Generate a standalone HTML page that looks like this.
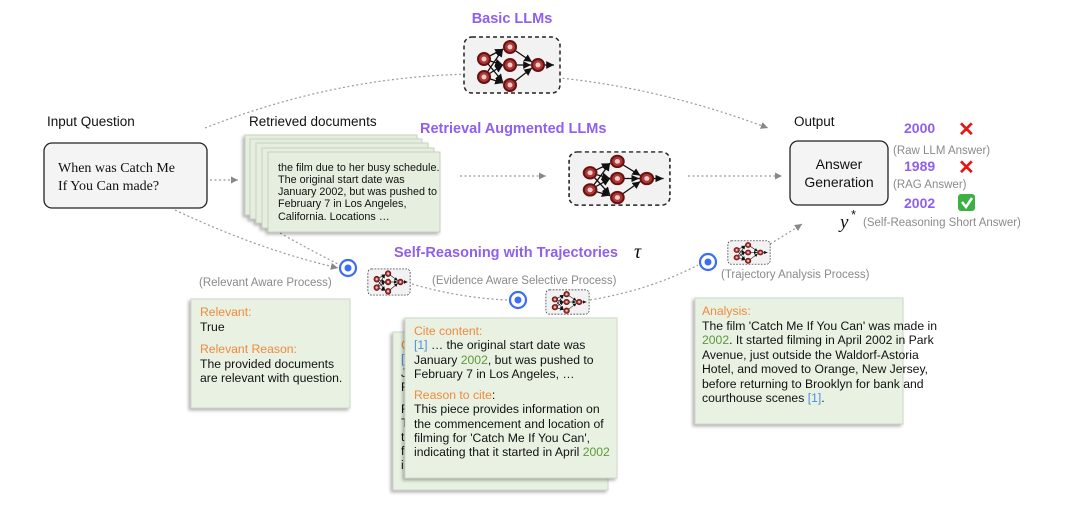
<!DOCTYPE html>
<html><head><meta charset="utf-8"><style>
body{margin:0;background:#fff;}
svg{display:block;font-family:"Liberation Sans",Arial,sans-serif;}
.pur{fill:#8f5ff0;font-weight:bold;}
.g{fill:#8a8a8a;font-size:11.5px;}
.or{fill:#f08a3c;}
.gr{fill:#5a9a3a;}
.bl{fill:#4d8fe0;}
.t{font-size:12.2px;fill:#111;}
</style></head><body>
<svg width="1067" height="512" viewBox="0 0 1067 512" xmlns="http://www.w3.org/2000/svg">
<defs>
<marker id="ah" markerWidth="8" markerHeight="8" refX="6" refY="3" orient="auto"><path d="M0,0 L6,3 L0,6 Z" fill="#888"/></marker>
<marker id="nh" markerWidth="8" markerHeight="8" refX="6" refY="3" orient="auto"><path d="M0,0 L6,3 L0,6 Z" fill="#111"/></marker>
<symbol id="net" viewBox="0 0 100 60" preserveAspectRatio="none">
<rect x="2" y="2" width="96" height="56" rx="8" fill="#f2f2f2" stroke="#222" stroke-width="1.5" stroke-dasharray="4,3"/>
<g stroke="#111" stroke-width="1.3" marker-end="url(#nh)">
<line x1="22" y1="24" x2="41" y2="14"/><line x1="22" y1="24" x2="41" y2="30"/><line x1="22" y1="24" x2="41" y2="47"/>
<line x1="22" y1="42" x2="41" y2="14"/><line x1="22" y1="42" x2="41" y2="30"/><line x1="22" y1="42" x2="41" y2="48"/>
<line x1="48" y1="12" x2="70" y2="27"/><line x1="48" y1="30" x2="69" y2="30"/><line x1="48" y1="50" x2="70" y2="33"/>
<line x1="76" y1="30" x2="92" y2="30"/>
</g>
<g fill="#a83a3a" stroke="#6b1010" stroke-width="2">
<circle cx="22" cy="24" r="6"/><circle cx="22" cy="42" r="6"/>
<circle cx="48" cy="12" r="6"/><circle cx="48" cy="30" r="6"/><circle cx="48" cy="50" r="6"/>
<circle cx="76" cy="30" r="6"/></g>
<g fill="#f4c8c8"><circle cx="22" cy="24" r="2.5"/><circle cx="22" cy="42" r="2.5"/><circle cx="48" cy="12" r="2.5"/><circle cx="48" cy="30" r="2.5"/><circle cx="48" cy="50" r="2.5"/><circle cx="76" cy="30" r="2.5"/></g>
</symbol>
<filter id="sh" x="-10%" y="-10%" width="120%" height="120%"><feDropShadow dx="-2" dy="2" stdDeviation="1.5" flood-color="#000" flood-opacity="0.3"/></filter>
</defs>

<g fill="none" stroke="#999" stroke-width="1.2" stroke-dasharray="2,2.5">
<path d="M205,128 Q480,20 768,128" marker-end="url(#ah)"/>
<path d="M210,180 L238,180" marker-end="url(#ah)"/>
<path d="M460,176 L546,176" marker-end="url(#ah)"/>
<path d="M688,176 L782,176" marker-end="url(#ah)"/>
<path d="M175,210 Q260,250 338,268" marker-end="url(#ah)"/>
<path d="M280,233 Q310,250 338,264"/>
<path d="M412,284 Q460,298 508,300"/>
<path d="M590,300 Q650,290 698,265"/>
<path d="M770,244 Q790,232 802,224" marker-end="url(#ah)"/>
</g>

<text x="512" y="23" text-anchor="middle" class="pur" font-size="14.5">Basic LLMs</text>
<use href="#net" x="462" y="35" width="100" height="60"/>

<text x="47" y="126" font-size="13.5" fill="#111">Input Question</text>
<rect x="44" y="143" width="163" height="65" rx="8" fill="#f4f4f4" stroke="#222" stroke-width="1.3"/>
<text x="58" y="172" font-size="14" fill="#111" font-family="Liberation Serif,serif">When was Catch Me</text>
<text x="58" y="190" font-size="14" fill="#111" font-family="Liberation Serif,serif">If You Can made?</text>

<text x="249" y="126" font-size="13.5" fill="#111">Retrieved documents</text>
<g stroke="#c8d2c0" stroke-width="1" fill="#e6efdf" filter="url(#sh)">
<rect x="245" y="135" width="172" height="80"/>
<rect x="250" y="139" width="172" height="80"/>
<rect x="256" y="143" width="172" height="80"/>
<rect x="262" y="148" width="172" height="80"/>
<rect x="268" y="152" width="172" height="80"/>
</g>
<g font-size="10.8" fill="#111">
<text x="278" y="171">the film due to her busy schedule.</text>
<text x="278" y="183">The original start date was</text>
<text x="278" y="195">January 2002, but was pushed to</text>
<text x="278" y="207">February 7 in Los Angeles,</text>
<text x="278" y="220">California. Locations …</text>
</g>

<text x="420" y="133" class="pur" font-size="14.5">Retrieval Augmented  LLMs</text>
<use href="#net" x="567" y="150" width="105" height="57"/>

<text x="794" y="126" font-size="13.5" fill="#111">Output</text>
<rect x="790" y="141" width="98" height="64" rx="8" fill="#f4f4f4" stroke="#222" stroke-width="1.3"/>
<text x="839" y="169" text-anchor="middle" font-size="14" fill="#111">Answer</text>
<text x="839" y="187" text-anchor="middle" font-size="14" fill="#111">Generation</text>

<text x="904" y="133" class="pur" font-size="14">2000</text>
<text x="958" y="136" font-size="20" fill="#e01818" font-weight="bold">✕</text>
<text x="893" y="154" class="g">(Raw LLM Answer)</text>
<text x="904" y="171" class="pur" font-size="14">1989</text>
<text x="958" y="174" font-size="20" fill="#e01818" font-weight="bold">✕</text>
<text x="893" y="188" class="g">(RAG Answer)</text>
<text x="904" y="208" class="pur" font-size="14">2002</text>
<rect x="958" y="194" width="17" height="17" rx="3" fill="#3cb043"/>
<path d="M962,202 L966,207 L972,198" stroke="#fff" stroke-width="2.5" fill="none"/>
<text x="840" y="228" font-size="19" font-style="italic" font-family="Liberation Serif,serif" fill="#111">y</text>
<text x="851" y="219" font-size="13" fill="#111">*</text>
<text x="863" y="226" class="g">(Self-Reasoning Short Answer)</text>

<text x="394" y="257" class="pur" font-size="14.5">Self-Reasoning with Trajectories</text>
<text x="634" y="258" font-size="20" font-style="italic" font-family="Liberation Serif,serif" fill="#111">τ</text>

<g><circle cx="348" cy="268" r="8" fill="#fff" stroke="#3b6ef0" stroke-width="2.2"/><circle cx="348" cy="268" r="3.5" fill="#3b6ef0"/>
<circle cx="518" cy="300" r="8" fill="#fff" stroke="#3b6ef0" stroke-width="2.2"/><circle cx="518" cy="300" r="3.5" fill="#3b6ef0"/>
<circle cx="708" cy="262" r="8" fill="#fff" stroke="#3b6ef0" stroke-width="2.2"/><circle cx="708" cy="262" r="3.5" fill="#3b6ef0"/></g>
<use href="#net" x="367" y="268" width="44" height="28"/>
<use href="#net" x="545" y="289" width="45" height="26"/>
<use href="#net" x="727" y="240" width="44" height="25"/>

<text x="199" y="286" class="g">(Relevant Aware Process)</text>
<text x="432" y="284" class="g">(Evidence Aware Selective Process)</text>
<text x="721" y="278" class="g">(Trajectory Analysis Process)</text>

<rect x="191" y="299" width="159" height="109" fill="#e8f1e2" stroke="#d0d8cc" filter="url(#sh)"/>
<g class="t">
<text x="200" y="316" class="or">Relevant:</text>
<text x="200" y="331">True</text>
<text x="200" y="353" class="or">Relevant Reason:</text>
<text x="200" y="368">The provided documents</text>
<text x="200" y="382">are relevant with question.</text>
</g>

<rect x="393" y="332" width="215" height="158" fill="#e8f1e2" stroke="#d0d8cc" filter="url(#sh)"/>
<g class="t"><text x="401" y="349" class="or">C</text><text x="401" y="363" class="bl">[</text><text x="401" y="377">J</text><text x="401" y="391">F</text><text x="401" y="413">F</text><text x="401" y="427">T</text><text x="401" y="441">t</text><text x="401" y="455">fi</text><text x="401" y="469">i</text></g>
<rect x="405" y="318" width="212" height="160" fill="#e8f1e2" stroke="#d0d8cc" filter="url(#sh)"/>
<g class="t">
<text x="414" y="335" class="or">Cite content:</text>
<text x="414" y="349"><tspan class="bl">[1]</tspan> … the original start date was</text>
<text x="414" y="364">January <tspan class="gr">2002</tspan>, but was pushed to</text>
<text x="414" y="378">February 7 in Los Angeles, …</text>
<text x="414" y="399"><tspan class="or">Reason to cite</tspan>:</text>
<text x="414" y="413">This piece provides information on</text>
<text x="414" y="428">the commencement and location of</text>
<text x="414" y="442">filming for 'Catch Me If You Can',</text>
<text x="414" y="456">indicating that it started in April <tspan class="gr">2002</tspan></text>
</g>

<rect x="695" y="298" width="208" height="126" fill="#e8f1e2" stroke="#d0d8cc" filter="url(#sh)"/>
<g class="t">
<text x="702" y="315" class="or">Analysis:</text>
<text x="702" y="330">The film 'Catch Me If You Can' was made in</text>
<text x="702" y="344"><tspan class="gr">2002</tspan>. It started filming in April 2002 in Park</text>
<text x="702" y="359">Avenue, just outside the Waldorf-Astoria</text>
<text x="702" y="373">Hotel, and moved to Orange, New Jersey,</text>
<text x="702" y="388">before returning to Brooklyn for bank and</text>
<text x="702" y="402">courthouse scenes <tspan class="bl">[1]</tspan>.</text>
</g>
</svg>
</body></html>
